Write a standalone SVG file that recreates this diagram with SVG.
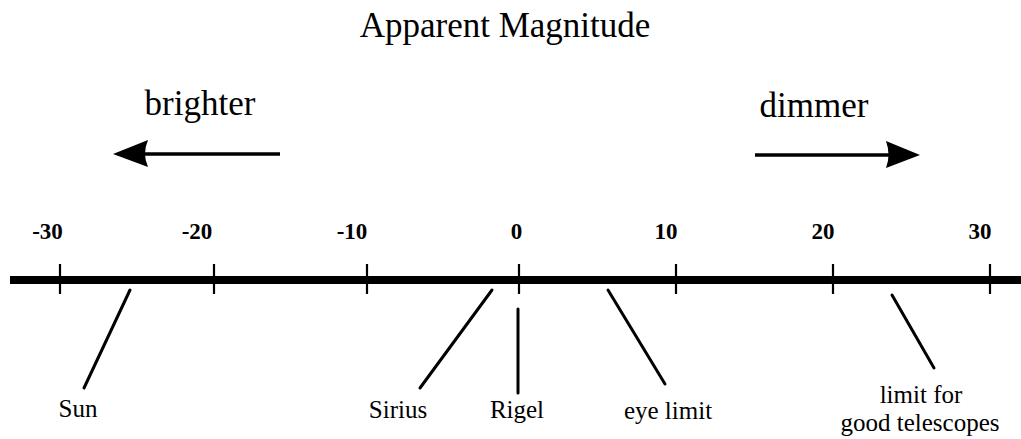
<svg xmlns="http://www.w3.org/2000/svg" width="1021" height="439" viewBox="0 0 1021 439">
<style>
.t{font-family:"Liberation Serif","Times New Roman",serif;fill:#000}
.title{font-size:35px;text-anchor:middle}
.dir{font-size:35px;text-anchor:middle}
.num{font-family:"Liberation Serif","Times New Roman",serif;font-weight:bold;font-size:23px;text-anchor:middle;fill:#000}
.lab{font-size:25px;text-anchor:middle}
.axis{stroke:#000;stroke-width:8;fill:none}
.tick{stroke:#000;stroke-width:2.2;fill:none}
.ptr{stroke:#000;stroke-width:3;fill:none;stroke-linecap:round}
.arr{stroke:#000;stroke-width:3.5;fill:none}
</style>
<rect width="1021" height="439" fill="#fff"/>
<g id="title"><text class="t title" x="505" y="37">Apparent Magnitude</text></g>
<g id="brighter">
<text class="t dir" x="200" y="115">brighter</text>
<line class="arr" x1="140" y1="154" x2="280" y2="154"/>
<path d="M113,154 L148,140 Q142,154 148,167 Z" fill="#000"/>
</g>
<g id="dimmer">
<text class="t dir" x="814" y="117">dimmer</text>
<line class="arr" x1="755" y1="155" x2="892" y2="155"/>
<path d="M920,155 L886,141 Q891,155 886,168 Z" fill="#000"/>
</g>
<g id="axis">
<line class="axis" x1="10" y1="280" x2="1021" y2="280"/>
<line class="tick" x1="60" y1="264" x2="60" y2="294"/>
<line class="tick" x1="214" y1="264" x2="214" y2="294"/>
<line class="tick" x1="367" y1="264" x2="367" y2="294"/>
<line class="tick" x1="519" y1="264" x2="519" y2="294"/>
<line class="tick" x1="676" y1="264" x2="676" y2="294"/>
<line class="tick" x1="833" y1="264" x2="833" y2="294"/>
<line class="tick" x1="990" y1="264" x2="990" y2="294"/>
<text class="num" x="47.5" y="239">-30</text>
<text class="num" x="197" y="239">-20</text>
<text class="num" x="352" y="239">-10</text>
<text class="num" x="516.5" y="239">0</text>
<text class="num" x="666" y="239">10</text>
<text class="num" x="823" y="239">20</text>
<text class="num" x="980" y="239">30</text>
</g>
<g id="connectors">
<line class="ptr" x1="130" y1="290" x2="84" y2="388"/>
<line class="ptr" x1="492" y1="290" x2="420" y2="388"/>
<line class="ptr" x1="518" y1="309" x2="518" y2="393"/>
<line class="ptr" x1="608" y1="290" x2="665" y2="384"/>
<line class="ptr" x1="892" y1="295" x2="934" y2="368"/>
</g>
<g id="sun"><text class="t lab" x="78" y="417">Sun</text></g>
<g id="sirius"><text class="t lab" x="398" y="418">Sirius</text></g>
<g id="rigel"><text class="t lab" x="517" y="418">Rigel</text></g>
<g id="eye-limit"><text class="t lab" x="668" y="419">eye limit</text></g>
<g id="telescopes"><text class="t lab" x="921" y="403">limit for</text><text class="t lab" x="920" y="431">good telescopes</text></g>
</svg>
